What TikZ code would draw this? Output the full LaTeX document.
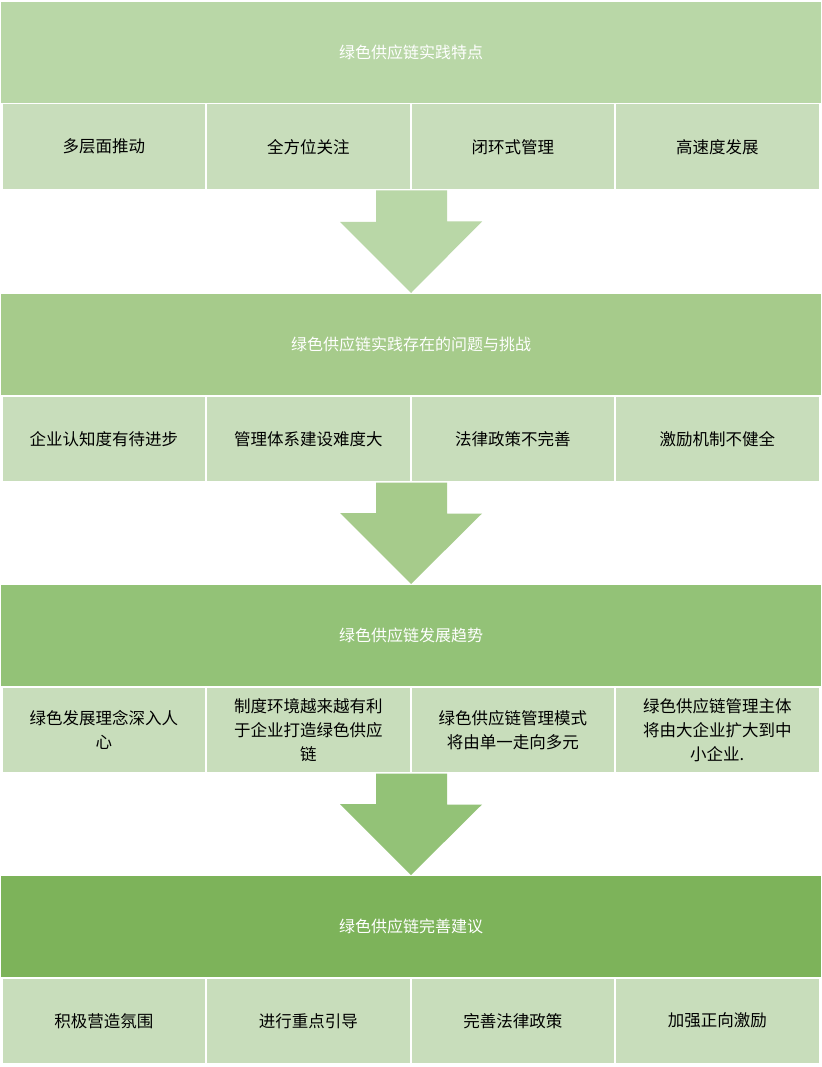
\documentclass[tikz,border=0pt]{standalone}
\usepackage{fontspec}
\newfontfamily\cjk{Noto Sans CJK SC}
\definecolor{hA}{HTML}{B9D7A7}
\definecolor{hB}{HTML}{A6CB8B}
\definecolor{hC}{HTML}{93C277}
\definecolor{hD}{HTML}{7DB35A}
\definecolor{sub}{HTML}{C8DDBB}
\tikzset{
 hdr/.style={fill=#1,draw=white,line width=1pt,minimum width=821pt,minimum height=102pt,inner sep=0pt,text=white,font=\cjk\fontsize{16}{19}\selectfont,anchor=north west},
 subbox/.style={fill=sub,draw=white,line width=1.5pt,minimum width=204pt,minimum height=86pt,inner sep=0pt,align=center,font=\cjk\fontsize{16.5}{24}\selectfont,anchor=north west}
}
\begin{document}
\begin{tikzpicture}[x=1pt,y=-1pt]
\useasboundingbox (0,0) rectangle (821,1067);
\fill[white] (0,0) rectangle (821,1067);
\newcommand\mysection[8]{%
 \node[hdr=#2] (h#1) at (0,#3) {#4};
 \node[subbox] (s#1a) at (1,#3+102) {#5};
 \node[subbox] (s#1b) at (205.5,#3+102) {#6};
 \node[subbox] (s#1c) at (410,#3+102) {#7};
 \node[subbox] (s#1d) at (614.5,#3+102) {#8};
}
\mysection{1}{hA}{1}{绿色供应链实践特点}{多层面推动}{全方位关注}{闭环式管理}{高速度发展}
\mysection{2}{hB}{293}{绿色供应链实践存在的问题与挑战}{企业认知度有待进步}{管理体系建设难度大}{法律政策不完善}{激励机制不健全}
\mysection{3}{hC}{584}{绿色供应链发展趋势}{绿色发展理念深入人\\心}{制度环境越来越有利\\于企业打造绿色供应\\链}{绿色供应链管理模式\\将由单一走向多元}{绿色供应链管理主体\\将由大企业扩大到中\\小企业.}
\mysection{4}{hD}{875}{绿色供应链完善建议}{积极营造氛围}{进行重点引导}{完善法律政策}{加强正向激励}
\foreach \a/\b/\c in {1/2/hA,2/3/hB,3/4/hC}{
 \fill[fill=\c] ([xshift=-35pt]s\a b.south -| h\a.north) -- ++(71,0) -- ++(0,31) -- ++(35,0) -- (h\b.north) -- ++(-71,-71) -- ++(36,0) -- cycle;
}
\end{tikzpicture}
\end{document}
